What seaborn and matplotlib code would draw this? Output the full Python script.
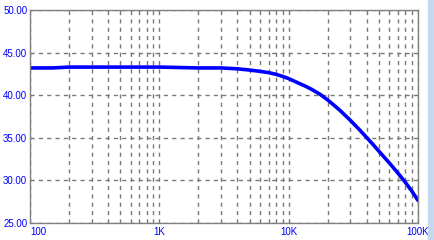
import matplotlib
matplotlib.use("Agg")
import matplotlib.pyplot as plt
import matplotlib.ticker as mticker
import seaborn as sns
import pandas as pd

freq_hz = [100, 150, 200, 300, 500, 1000, 2000, 3000, 4000, 5000, 6000, 7000, 8000,
           9000, 10000, 12000, 13500, 15000, 17500, 20000, 22500, 25000, 30000, 35000,
           40000, 45000, 50000, 60000, 70000, 80000, 90000, 100000]
gain_db = [43.2, 43.2, 43.3, 43.3, 43.3, 43.3, 43.2, 43.2, 43.1, 42.95, 42.8, 42.65, 42.45,
           42.2, 41.95, 41.4, 41.05, 40.7, 40.1, 39.45, 38.8, 38.2, 37.05, 36.0,
           35.05, 34.2, 33.4, 32.05, 30.85, 29.75, 28.7, 27.65]
x_ticks = [100, 1000, 10000, 100000]
x_tick_labels = ["100", "1K", "10K", "100K"]
y_ticks = [25, 30, 35, 40, 45, 50]
y_tick_labels = ["25.00", "30.00", "35.00", "40.00", "45.00", "50.00"]

df = pd.DataFrame({"freq": freq_hz, "gain": gain_db})

sns.set_style("white")
plt.rcParams["font.family"] = ["Liberation Sans", "DejaVu Sans"]

fig = plt.figure(figsize=(4.35, 2.4), dpi=100)
W, H = 435, 240
ax = fig.add_axes([30 / W, (H - 223) / H, (418 - 30) / W, (223 - 10) / H])

sns.lineplot(data=df, x="freq", y="gain", ax=ax, color="#0000ff", linewidth=2.6)
ax.set_xscale("log")
ax.set_xlim(100, 100000)
ax.set_ylim(25, 50)

grid_col = "#7a7a72"
ax.xaxis.set_major_locator(mticker.FixedLocator(x_ticks))
ax.xaxis.set_minor_locator(mticker.LogLocator(base=10, subs=range(2, 10)))
ax.xaxis.set_minor_formatter(mticker.NullFormatter())
ax.set_xticklabels(x_tick_labels)
ax.set_yticks(y_ticks)
ax.set_yticklabels(y_tick_labels)
ax.grid(True, which="both", axis="x", color=grid_col, linestyle=(0, (3, 3)), linewidth=1)
ax.grid(True, which="major", axis="y", color=grid_col, linestyle=(0, (3, 3)), linewidth=1)
ax.tick_params(axis="both", which="both", length=0, labelsize=7, labelcolor="#0000ff", pad=3)
ax.tick_params(axis="y", pad=2)
for lab in ax.get_xticklabels():
    if lab.get_text() == "100":
        lab.set_horizontalalignment("left")
for s in ax.spines.values():
    s.set_color("#808080")
    s.set_linewidth(1)
ax.set_xlabel("")
ax.set_ylabel("")

# light blue strip at the right edge
fig.patches.append(plt.Rectangle((428 / W, 0), 7 / W, 1, transform=fig.transFigure,
                                 color="#c4d8f0", zorder=0))

fig.savefig("out.png", dpi=100)
